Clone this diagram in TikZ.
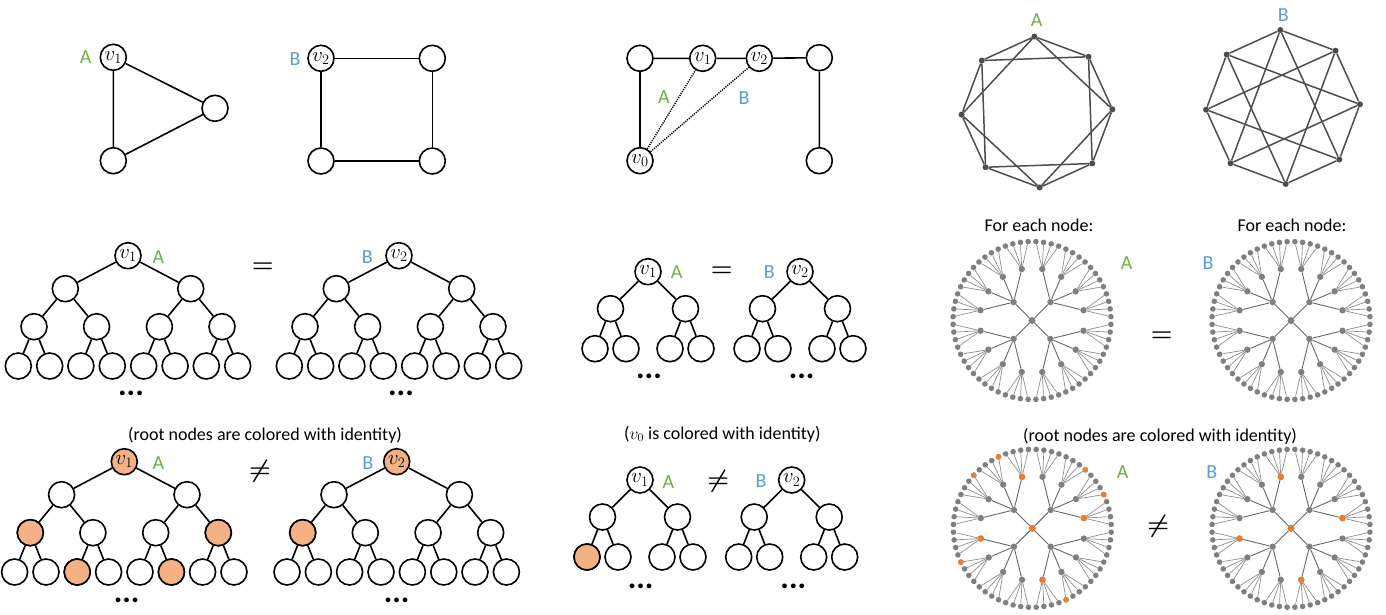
\documentclass[tikz,border=0pt]{standalone}
\usepackage{fontspec}
\setmainfont{Carlito}
\usetikzlibrary{positioning}
\definecolor{agreen}{HTML}{70AD47}
\definecolor{bblue}{HTML}{5B9BD5}
\definecolor{hitorange}{HTML}{F4B183}
\definecolor{dotorange}{HTML}{ED7D31}
\definecolor{dotgray}{HTML}{7F7F7F}
\definecolor{octgray}{HTML}{4D4D4D}
\tikzstyle{vert} = [circle, draw=black, line width=1.6pt, fill=white, minimum size=26pt, inner sep=0pt, font=\fontsize{20}{20}\selectfont]
\tikzstyle{hit} = [vert, fill=hitorange]
\tikzstyle{edge} = [line width=1.6pt]
\tikzstyle{glabA} = [text=agreen, font=\fontsize{20}{20}\selectfont]
\tikzstyle{glabB} = [text=bblue, font=\fontsize{20}{20}\selectfont]
\tikzstyle{note} = [font=\fontsize{18}{21}\selectfont]
\tikzstyle{rel} = [font=\fontsize{26}{26}\selectfont\boldmath]
\tikzstyle{more} = [font=\fontsize{32}{32}\selectfont\bfseries]
\tikzstyle{odot} = [circle, fill=octgray, minimum size=6pt, inner sep=0pt]
\tikzstyle{oedge} = [draw=octgray, line width=1.5pt]
\tikzstyle{rdot} = [circle, fill=dotgray, minimum size=6.4pt, inner sep=0pt]
\tikzstyle{ldot} = [circle, fill=dotgray, minimum size=5.6pt, inner sep=0pt]
\tikzstyle{hdot} = [circle, fill=dotorange, minimum size=6.4pt, inner sep=0pt]
\tikzstyle{redge} = [draw=black!60, line width=0.9pt]
\tikzstyle{ledge} = [draw=black!45, line width=0.7pt]

% binary trees under a root node: name, x, y of the root
\newcommand{\bigtree}[3]{%
  \foreach \a in {0,1} {
    \node[vert] (#1\a) at ({#2+(2*\a-1)*62.7},{#3+33}) {};
    \draw[edge] (#1) -- (#1\a);
    \foreach \b in {0,1} {
      \node[vert] (#1\a\b) at ({#2+(2*\a-1)*62.7+(2*\b-1)*31.3},{#3+71}) {};
      \draw[edge] (#1\a) -- (#1\a\b);
      \foreach \c in {0,1} {
        \node[vert] (#1\a\b\c) at ({#2+(2*\a-1)*62.7+(2*\b-1)*31.3+(2*\c-1)*15.7},{#3+110.3}) {};
        \draw[edge] (#1\a\b) -- (#1\a\b\c);
      }
    }
  }}
\newcommand{\smalltree}[3]{%
  \foreach \a in {0,1} {
    \node[vert] (#1\a) at ({#2+(2*\a-1)*37.5},{#3+37}) {};
    \draw[edge] (#1) -- (#1\a);
    \foreach \b in {0,1} {
      \node[vert] (#1\a\b) at ({#2+(2*\a-1)*37.5+(2*\b-1)*15.5},{#3+77}) {};
      \draw[edge] (#1\a) -- (#1\a\b);
    }
  }}
% unfolded tree drawn round its root
\newcommand{\radtree}[3]{%
  \node[rdot, minimum size=7pt] (#1) at (#2,#3) {};
  \foreach \i in {0,...,3} {
    \pgfmathsetmacro{\ai}{45+90*\i}
    \node[rdot] (#1-\i) at ({#2+26*cos(\ai)},{#3-26*sin(\ai)}) {};
    \draw[redge] (#1) -- (#1-\i);
    \foreach \j in {0,...,3} {
      \pgfmathsetmacro{\aj}{\ai-33.75+22.5*\j}
      \node[rdot] (#1-\i-\j) at ({#2+52.5*cos(\aj)},{#3-52.5*sin(\aj)}) {};
      \draw[redge] (#1-\i) -- (#1-\i-\j);
      \foreach \k in {0,...,3} {
        \pgfmathsetmacro{\ak}{\aj-8.4375+5.625*\k}
        \node[ldot] (#1-\i-\j-\k) at ({#2+79*cos(\ak)},{#3-79*sin(\ak)}) {};
        \draw[ledge] (#1-\i-\j) -- (#1-\i-\j-\k);
      }
    }
  }}

\begin{document}
\begin{tikzpicture}[x=1pt, y=-1pt]
    \useasboundingbox (0,0) rectangle (1386,614);

    % first row: the graphs
    \node (t1) [vert] at (113.3,57.3) {$v_1$};
    \node (t2) [vert] at (215,108.3) {};
    \node (t3) [vert] at (113.3,160.7) {};
    \draw [edge] (t1) -- (t2) -- (t3) -- (t1);
    \node (la1) [glabA] at (85.7,56.7) {A};

    \node (s1) [vert] at (321,58.3) {$v_2$};
    \node (s2) [vert] at (432.3,58.3) {};
    \node (s3) [vert] at (432.3,161) {};
    \node (s4) [vert] at (321,161) {};
    \draw [edge] (s1) -- (s2) -- (s3) -- (s4) -- (s1);
    \node (lb1) [glabB] at (295,59.3) {B};

    \node (p1) [vert] at (640,58.3) {};
    \node (p2) [vert] at (702.7,58.3) {$v_1$};
    \node (p3) [vert] at (759.3,58.3) {$v_2$};
    \node (p4) [vert] at (819.3,57.7) {};
    \node (p0) [vert] at (640,160.7) {$v_0$};
    \node (p5) [vert] at (819.3,160.7) {};
    \draw [edge] (p0) -- (p1) -- (p2) -- (p3) -- (p4) -- (p5);
    \draw [line width=1.4pt, dash pattern=on 1.2pt off 1.1pt] (p0) -- (p2);
    \draw [line width=1.4pt, dash pattern=on 1.2pt off 1.1pt] (p0) -- (p3);
    \node (la2) [glabA] at (664,97.3) {A};
    \node (lb2) [glabB] at (744,98.3) {B};

    \foreach \i in {0,...,7}
        \node (oa\i) [odot] at ({1037+75.5*cos(2+45*\i)},{112-75.5*sin(2+45*\i)}) {};
    \foreach \i in {0,...,7}
        \node (ob\i) [odot] at ({1283+77*cos(2+45*\i)},{107-77*sin(2+45*\i)}) {};
    \foreach \i in {0,...,7} {
        \pgfmathtruncatemacro{\na}{mod(\i+1,8)}
        \pgfmathtruncatemacro{\nb}{mod(\i+2,8)}
        \pgfmathtruncatemacro{\nc}{mod(\i+3,8)}
        \draw [oedge] (oa\i) -- (oa\na) (oa\i) -- (oa\nb);
        \draw [oedge] (ob\i) -- (ob\na) (ob\i) -- (ob\nc);
    }
    \node (la3) [glabA] at (1036.7,20) {A};
    \node (lb3) [glabB] at (1283.3,15) {B};

    % second row: equal unfoldings
    \node (ta) [vert] at (128,255.7) {$v_1$};
    \bigtree{ta}{128}{255.7}
    \node (tb) [vert] at (399,255.7) {$v_2$};
    \bigtree{tb}{399}{255.7}
    \node (la4) [glabA] at (158.3,256.7) {A};
    \node (lb4) [glabB] at (367.3,256.7) {B};
    \node (eq1) [rel] at (262.7,267.3) {$=$};
    \node (m1) [more] at (131,393) {...};
    \node (m2) [more] at (401,393) {...};

    \node (ma) [vert] at (648,271.7) {$v_1$};
    \smalltree{ma}{648}{271.7}
    \node (mb) [vert] at (800,271.7) {$v_2$};
    \smalltree{mb}{800}{271.7}
    \node (la5) [glabA] at (676.7,272.3) {A};
    \node (lb5) [glabB] at (769.3,272.3) {B};
    \node (eq2) [rel] at (721.7,271.7) {$=$};
    \node (m3) [more] at (649,376.7) {...};
    \node (m4) [more] at (801.7,376.7) {...};

    \node (fa) [note] at (1039,225) {For each node:};
    \node (fb) [note] at (1292,225) {For each node:};
    \radtree{ra}{1032}{320.5}
    \radtree{rb}{1291}{320.5}
    \node (la6) [glabA] at (1126.7,263.3) {A};
    \node (lb6) [glabB] at (1208,263) {B};
    \node (eq3) [rel] at (1161.7,336.7) {$=$};

    % third row: colored roots
    \node (c1) [note] at (265,435) {(root nodes are colored with identity)};
    \node (ua) [hit] at (124.3,461.7) {$v_1$};
    \bigtree{ua}{124.3}{461.7}
    \node (ub) [hit] at (396.7,461.7) {$v_2$};
    \bigtree{ub}{396.7}{461.7}
    \foreach \n in {ua00, ua11, ua010, ua101, ub00}
        \node (\n h) [hit] at (\n) {};
    \node (la7) [glabA] at (158.3,463.3) {A};
    \node (lb7) [glabB] at (367.7,463.3) {B};
    \node (ne1) [rel] at (260,471.7) {$\neq$};
    \node (m5) [more] at (126.7,600) {...};
    \node (m6) [more] at (396.7,600) {...};

    \node (c2) [note] at (722.3,434) {($v_0$ is colored with identity)};
    \node (na) [vert] at (640,480) {$v_1$};
    \smalltree{na}{640}{480}
    \node (nb) [vert] at (791.7,480) {$v_2$};
    \smalltree{nb}{791.7}{480}
    \node (na00h) [hit] at (na00) {};
    \node (la8) [glabA] at (668.3,481.7) {A};
    \node (lb8) [glabB] at (761,480.7) {B};
    \node (ne2) [rel] at (718.3,481.7) {$\neq$};
    \node (m7) [more] at (640.7,586.7) {...};
    \node (m8) [more] at (793.3,586.7) {...};

    \node (c3) [note] at (1160,436) {(root nodes are colored with identity)};
    \radtree{rc}{1032.3}{528.3}
    \radtree{rd}{1291}{528.3}
    \foreach \n in {rc, rc-0-0, rc-1-0, rc-2-0, rc-3-0, rd, rd-0-0, rd-1-0, rd-2-0, rd-3-0}
        \node (\n h) [hdot] at (\n) {};
    \foreach \n in {rc-0-1-0, rc-0-2-0, rc-1-1-0, rc-1-2-0, rc-2-1-0, rc-3-1-0}
        \node (\n h) [hdot, minimum size=5.6pt] at (\n) {};
    \node (la9) [glabA] at (1122.7,471.7) {A};
    \node (lb9) [glabB] at (1211.7,471.7) {B};
    \node (ne3) [rel] at (1158.3,526.7) {$\neq$};
\end{tikzpicture}
\end{document}
